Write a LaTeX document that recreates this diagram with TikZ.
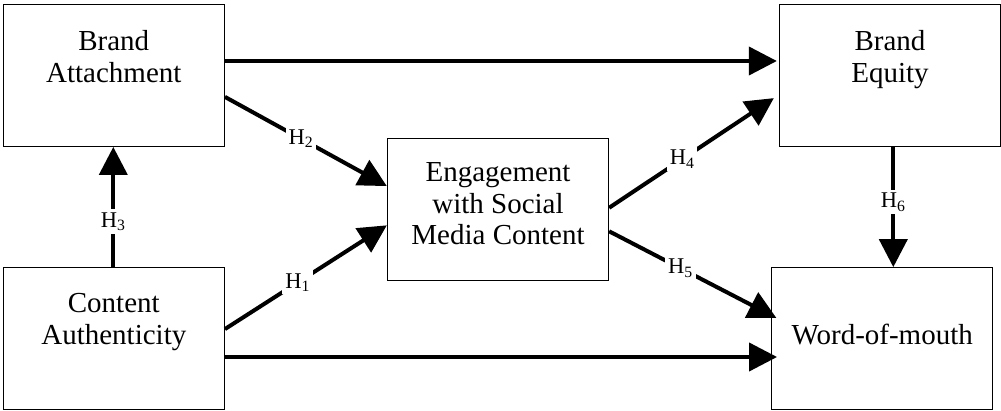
\documentclass[tikz,border=0pt]{standalone}
\usepackage{fontspec}
\setmainfont{Liberation Serif}
\usetikzlibrary{arrows.meta,calc}
\begin{document}
\begin{tikzpicture}[x=1pt,y=-1pt,
 box/.style={draw, line width=1.3pt, minimum width=221pt, minimum height=142pt, inner sep=0pt},
 txt/.style={font=\fontsize{29}{31.6}\selectfont, align=center, inner sep=0pt, anchor=north},
 conn/.style={line width=4pt, -{Triangle[length=28pt,width=28pt]}},
 hyp/.style={font=\fontsize{22.5}{24}\selectfont, fill=white, inner sep=3pt}]
\useasboundingbox (0,0) rectangle (1001,411);
% boxes
\node[box] (ba) at (113.8,75.3) {};
\node[box] (ca) at (113.8,338.8) {};
\node[box] (eng) at (498,209.7) {};
\node[box] (be) at (890,75.2) {};
\node[box] (wom) at (882.2,338.8) {};
% texts
\node[txt] (tba) at (113.8,30.5) {Brand\\Attachment};
\node[txt] (tca) at (113.8,293.5) {Content\\Authenticity};
\node[txt] (teng) at (498,162.5) {Engagement\\with Social\\Media Content};
\node[txt] (tbe) at (890,30.5) {Brand\\Equity};
\node[txt] (twom) at (882.2,323.5) {Word-of-mouth};
% helper coordinates
\coordinate (ytop) at (0,61);
\coordinate (ybot) at (0,357);
\coordinate (xh3) at (113.3,0);
\coordinate (xh6) at (893.3,0);
% connectors
\draw[conn, shorten >=2pt] (ba.east |- ytop) -- (be.west |- ytop);
\draw[conn, shorten >=-6pt] (ca.east |- ybot) -- (wom.west |- ybot);
\draw[conn] (ba.-11.8) -- node[hyp,pos=.47] (h2) {H\textsubscript{2}} (eng.168.3);
\draw[conn] (ca.5.7) -- node[hyp,pos=.45] (h1) {H\textsubscript{1}} (eng.188.7);
\draw[conn] (ca.north -| xh3) -- node[hyp,pos=.38] (h3) {H\textsubscript{3}} (ba.south -| xh3);
\draw[conn, shorten >=6pt] (eng.1.5) -- node[hyp,pos=.43] (h4) {H\textsubscript{4}} (be.190.8);
\draw[conn, shorten >=-6pt] (eng.-11.7) -- node[hyp,pos=.44] (h5) {H\textsubscript{5}} (wom.168.7);
\draw[conn] (be.south -| xh6) -- node[hyp,pos=.46] (h6) {H\textsubscript{6}} (wom.north -| xh6);
\end{tikzpicture}
\end{document}
